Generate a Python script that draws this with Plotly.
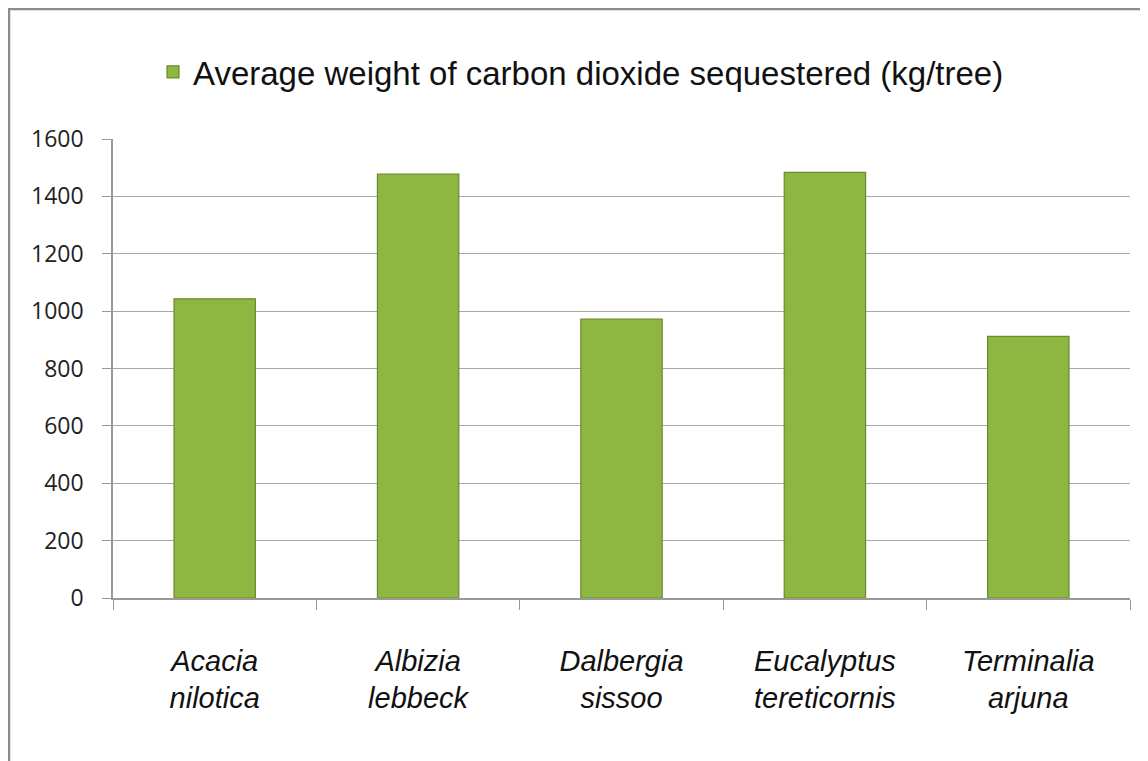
import plotly.graph_objects as go

species = ["Acacia<br>nilotica", "Albizia<br>lebbeck", "Dalbergia<br>sissoo",
           "Eucalyptus<br>tereticornis", "Terminalia<br>arjuna"]
co2_kg_per_tree = [1043, 1478, 972, 1484, 912]
series_name = "Average weight of carbon dioxide sequestered (kg/tree)"
y_ticks = [0, 200, 400, 600, 800, 1000, 1200, 1400, 1600]

OFF = 8  # page body margin
W, H = 1148 - OFF, 761 - OFF
L, R, T, B = 113 - OFF, 18, 139 - OFF, 163
pw = W - L - R
ph = H - T - B

fig = go.Figure()
fig.add_trace(go.Bar(
    x=species, y=co2_kg_per_tree, name=series_name,
    marker=dict(color="#8DB740", line=dict(color="#6A8A2C", width=1.2)),
    width=0.4, showlegend=True,
))

def px_x(p):
    return (p - OFF - L) / pw

def px_y(p):
    return (H - B - (p - OFF)) / ph

fig.update_layout(
    width=W, height=H,
    margin=dict(l=L, r=R, t=T, b=B),
    paper_bgcolor="white", plot_bgcolor="white",
    showlegend=True,
    legend=dict(orientation="h", x=px_x(581), xanchor="center",
                y=px_y(72), yanchor="middle",
                font=dict(family="Liberation Sans, Arial", size=33, color="#111111"),
                itemwidth=30),
    xaxis=dict(
        tickson="boundaries", ticks="outside", ticklen=10, tickcolor="#999999",
        showline=True, linecolor="#999999", linewidth=1.5,
        tickfont=dict(family="Liberation Sans, Arial", size=29, color="#111111",
                      style="italic"),
        ticklabelstandoff=36,
        showgrid=False,
    ),
    yaxis=dict(
        range=[0, 1600], tickvals=y_ticks, ticks="outside", ticklen=9,
        tickcolor="#999999", showline=True, linecolor="#999999", linewidth=1.5,
        showgrid=True, gridcolor="#A8A8A8", gridwidth=1,
        tickfont=dict(family="Open Sans, Liberation Sans", size=23, color="#222222"),
        ticklabelstandoff=14, zeroline=False,
    ),
    shapes=[dict(type="rect", xref="paper", yref="paper",
                 x0=px_x(9), x1=px_x(1160), y0=px_y(775), y1=px_y(9),
                 line=dict(color="#8C8C8C", width=2.5), layer="below")],
)

fig.write_html("out.html")
